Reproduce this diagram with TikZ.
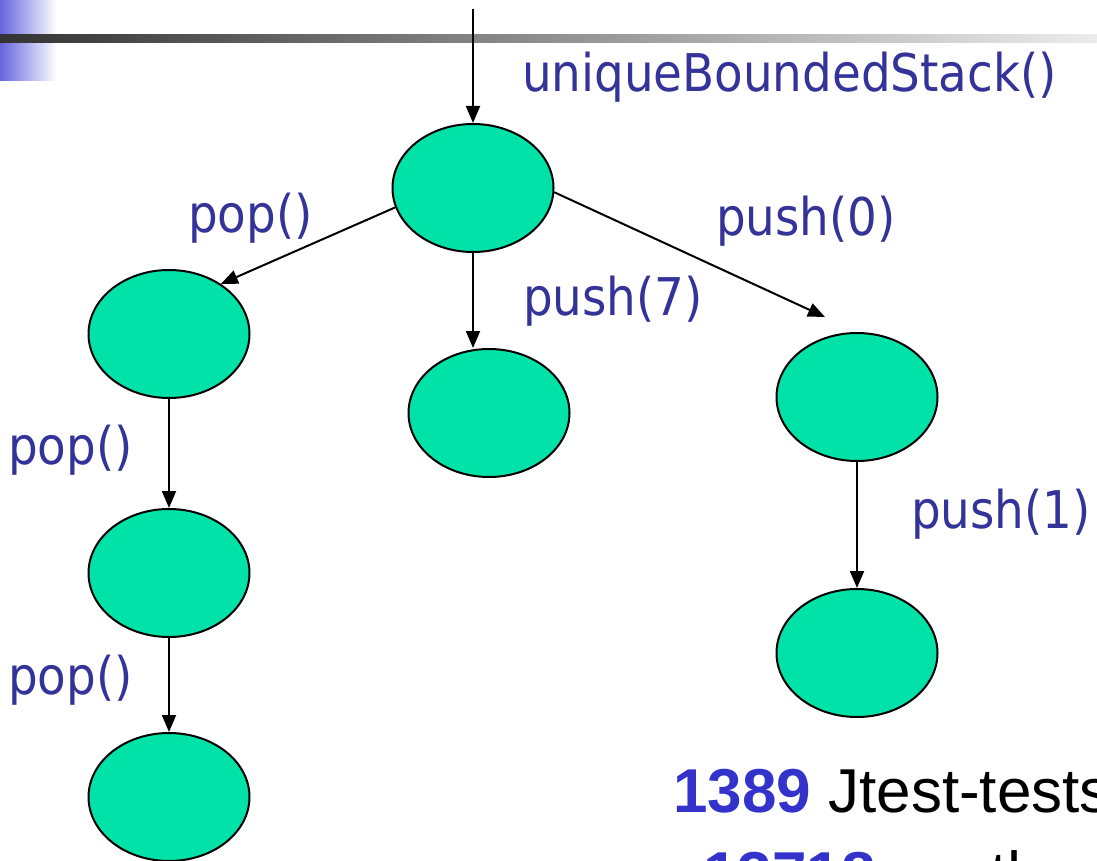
\documentclass[tikz,border=0pt]{standalone}
\usepackage{fontspec}
\setmainfont{Liberation Sans}
\newfontfamily\lblfont{DejaVu Sans Condensed}
\usetikzlibrary{shapes.geometric,arrows.meta}

\definecolor{nodefill}{RGB}{0,226,168}
\definecolor{labelblue}{RGB}{51,51,153}
\definecolor{numblue}{RGB}{51,51,204}
\definecolor{barleft}{RGB}{51,51,51}
\definecolor{barright}{RGB}{236,236,236}
\definecolor{cornerblue}{RGB}{102,102,221}

\tikzset{
  state/.style={ellipse, draw=black, line width=2pt, fill=nodefill,
    minimum width=161pt, minimum height=128pt, inner sep=0pt},
  edge/.style={draw=black, line width=2pt,
    -{Triangle[length=17pt,width=14pt]}},
  call/.style={anchor=base west, inner sep=0pt, text=labelblue,
    font=\lblfont\fontsize{52}{60}\selectfont},
  count/.style={anchor=base west, inner sep=0pt,
    font=\fontsize{62}{72}\selectfont}
}

\begin{document}
\begin{tikzpicture}[x=1pt, y=-1pt]
  \useasboundingbox (0,0) rectangle (1097,861);
  \clip (0,0) rectangle (1097,861);
  \fill[white] (0,0) rectangle (1097,861);

  % slide header: corner square and title rule
  \fill[left color=cornerblue, right color=white] (0,0) rectangle (57,81);
  \fill[left color=barleft, right color=barright] (0,35) rectangle (1097,43);

  % states of the bounded stack
  \node[state] (root) at (473,188) {};
  \node[state] (L1)   at (169,334) {};
  \node[state] (L2)   at (169,573) {};
  \node[state] (L3)   at (169,797) {};
  \node[state] (M)    at (489,413) {};
  \node[state] (R1)   at (857,397) {};
  \node[state] (R2)   at (857,653) {};

  \coordinate (entry) at (473,9);
  \coordinate (R1in)  at (825,317);

  % transitions
  \draw[edge] (entry) -- (root.north);
  \draw[edge] (root.194) -- (L1.44);
  \draw[edge] (root.south) -- (root.south |- M.north);
  \draw[edge] (root.357) -- (R1in);
  \draw[edge] (L1.south) -- (L2.north);
  \draw[edge] (L2.south) -- (L3.north);
  \draw[edge] (R1.south) -- (R2.north);

  % method-call labels
  \node[call] (lctor)  at (522,92)  {uniqueBoundedStack()};
  \node[call] (lpopA)  at (188,233) {pop()};
  \node[call] (lpush7) at (523,315) {push(7)};
  \node[call] (lpush0) at (716,235) {push(0)};
  \node[call] (lpopB)  at (8,464)   {pop()};
  \node[call] (lpush1) at (911,528) {push(1)};
  \node[call] (lpopC)  at (8,694)   {pop()};

  % summary figures
  \node[count] (ntests) at (673,812)
    {\textcolor{numblue}{\bfseries 1389} Jtest-tests};
  \node[count] (nexec) at (703,895)
    {\textcolor{numblue}{\bfseries 13718}\hspace{29pt}method};
\end{tikzpicture}
\end{document}
